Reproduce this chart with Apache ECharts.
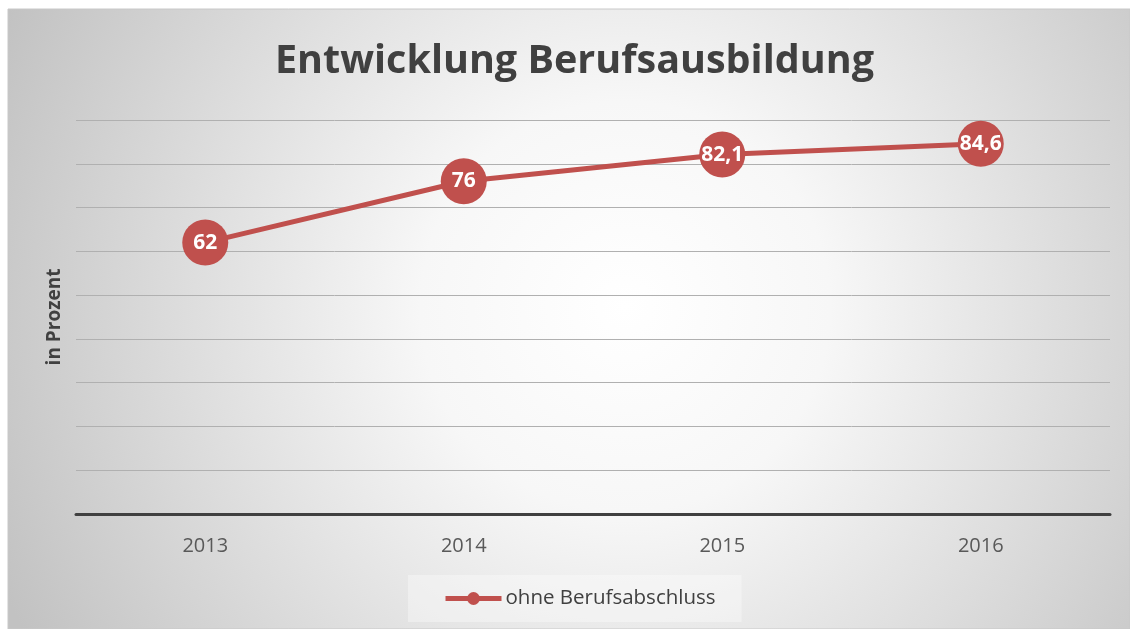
<!DOCTYPE html>
<html>
<head>
<meta charset="utf-8">
<title>Entwicklung Berufsausbildung</title>
<script src="https://cdn.jsdelivr.net/npm/echarts@6/dist/echarts.min.js"></script>
<style>
    html, body { margin: 0; padding: 0; background: #ffffff; }
    #chart { width: 1130px; height: 629px; }
</style>
</head>
<body>
<div id="chart"></div>
<script>
    // Werte
    var years = ['2013', '2014', '2015', '2016'];
    var ohneAbschluss = [62, 76, 82.1, 84.6];
    var yMin = 0, yMax = 90, yStep = 10;

    var chart = echarts.init(document.getElementById('chart'));
    var font = '"Open Sans", "Noto Sans", sans-serif';

    var option = {
        backgroundColor: '#ffffff',
        textStyle: { fontFamily: font },
        graphic: [{
            type: 'rect',
            z: -10,
            silent: true,
            shape: { x: 8, y: 9, width: 1122, height: 620 },
            style: {
                fill: new echarts.graphic.RadialGradient(0.55, 0.48, 1.1, [
                    { offset: 0, color: '#ffffff' },
                    { offset: 0.3, color: '#f7f7f7' },
                    { offset: 1, color: '#c2c2c2' }
                ]),
                stroke: '#c8c8c8',
                lineWidth: 1
            }
        }],
        title: {
            text: 'Entwicklung Berufsausbildung',
            left: 270,
            top: 37,
            textStyle: {
                fontFamily: font,
                fontSize: 39.5,
                fontWeight: 'bold',
                color: '#404040'
            }
        },
        legend: {
            bottom: 7,
            left: 408,
            itemWidth: 56,
            itemHeight: 16,
            itemGap: 0,
            padding: [13, 26, 13, 35],
            backgroundColor: 'rgba(255,255,255,0.35)',
            lineStyle: { width: 5 },
            textStyle: { fontFamily: font, fontSize: 20.5, color: '#404040', padding: [0, 0, 0, -1] },
            data: ['ohne Berufsabschluss']
        },
        grid: { left: 76, right: 20, top: 120, bottom: 115 },
        xAxis: {
            type: 'category',
            data: years,
            boundaryGap: true,
            axisLine: { lineStyle: { color: '#404040', width: 3 } },
            axisTick: { show: false },
            axisLabel: { margin: 22, fontFamily: font, fontSize: 20, color: '#595959' }
        },
        yAxis: {
            type: 'value',
            min: yMin,
            max: yMax,
            interval: yStep,
            name: 'in Prozent',
            nameLocation: 'middle',
            nameGap: 12,
            nameTextStyle: { fontFamily: font, fontSize: 19, fontWeight: 'bold', color: '#404040' },
            axisLine: { show: false },
            axisTick: { show: false },
            axisLabel: { show: false },
            splitLine: { lineStyle: { color: '#b0b0b0', width: 1 } }
        },
        series: [{
            name: 'ohne Berufsabschluss',
            type: 'line',
            data: ohneAbschluss,
            symbol: 'circle',
            symbolSize: 46,
            lineStyle: { color: '#c0504d', width: 5 },
            itemStyle: { color: '#c0504d' },
            label: {
                show: true,
                position: 'inside',
                color: '#ffffff',
                fontFamily: font,
                fontSize: 21,
                fontWeight: 'bold',
                formatter: function (p) {
                    return String(p.value).replace('.', ',');
                }
            }
        }]
    };

    chart.setOption(option);
</script>
</body>
</html>
